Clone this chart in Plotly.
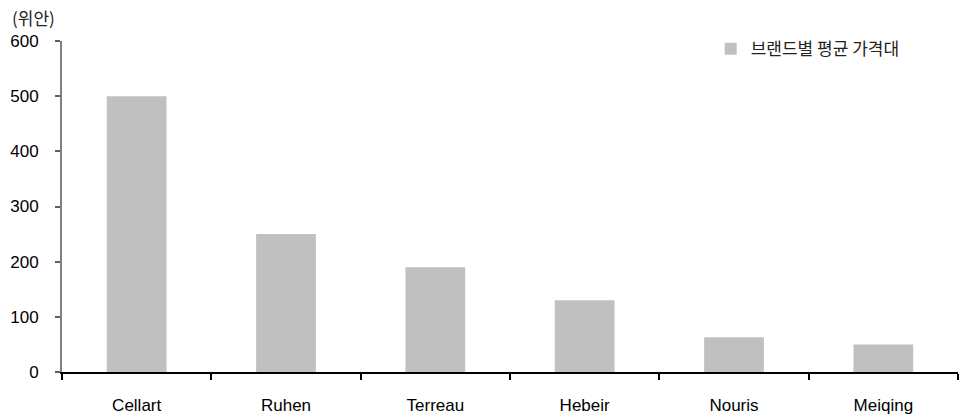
import plotly.graph_objects as go

# Average price band by brand (CNY)
brands = ["Cellart", "Ruhen", "Terreau", "Hebeir", "Nouris", "Meiqing"]
avg_price = [500, 250, 190, 130, 63, 50]
y_ticks = [0, 100, 200, 300, 400, 500, 600]
series_name = "브랜드별 평균 가격대"
unit_label = "(위안)"

latin_font = "Liberation Sans, Arial, sans-serif"
kr_font = "Noto Sans CJK KR, sans-serif"

fig = go.Figure(
    go.Bar(
        x=brands,
        y=avg_price,
        name=series_name,
        marker=dict(color="#c0c0c0", line=dict(width=0)),
        showlegend=True,
    )
)

fig.update_layout(
    width=963,
    height=416,
    margin=dict(l=62, r=5, t=41, b=44, autoexpand=False),
    paper_bgcolor="white",
    plot_bgcolor="white",
    bargap=0.6,
    font=dict(family=latin_font, size=16, color="#000000"),
    legend=dict(
        x=0.724,
        y=0.975,
        xanchor="left",
        yanchor="middle",
        bgcolor="rgba(0,0,0,0)",
        font=dict(family=kr_font, size=17, color="#222222"),
        itemwidth=30,
    ),
    annotations=[
        dict(
            text=unit_label,
            xref="paper",
            yref="paper",
            x=-0.058,
            y=1.0,
            xanchor="left",
            yanchor="bottom",
            yshift=9,
            showarrow=False,
            font=dict(family=kr_font, size=17, color="#222222"),
        )
    ],
)

fig.update_xaxes(
    type="category",
    automargin=False,
    showline=True,
    linecolor="#000000",
    linewidth=1.5,
    ticks="outside",
    tickson="boundaries",
    ticklen=6,
    tickcolor="#000000",
    tickwidth=1.5,
    ticklabelstandoff=17,
    showgrid=False,
    tickfont=dict(family=latin_font, size=17, color="#000000"),
)

fig.update_yaxes(
    range=[0, 600],
    tickvals=y_ticks,
    automargin=False,
    showline=True,
    linecolor="#808080",
    linewidth=2,
    ticks="outside",
    ticklen=5,
    tickcolor="#606060",
    tickwidth=1.5,
    ticklabelstandoff=13,
    showgrid=False,
    zeroline=False,
    tickfont=dict(family=latin_font, size=17, color="#000000"),
)

fig.write_html("out.html")
